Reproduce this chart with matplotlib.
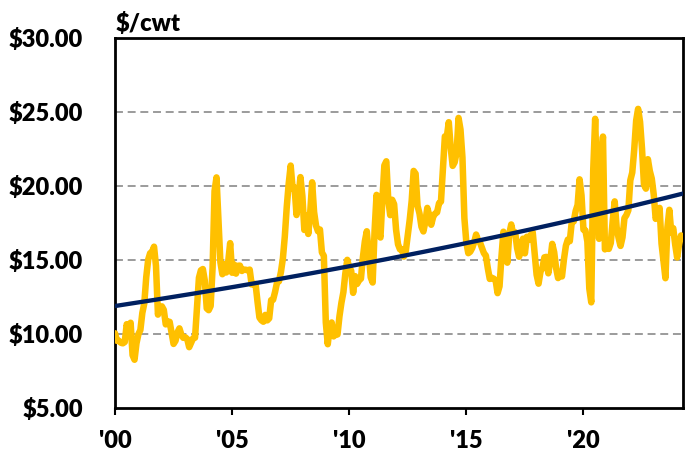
import numpy as np
import matplotlib
matplotlib.use("Agg")
import matplotlib.pyplot as plt
from matplotlib.ticker import FuncFormatter

# Monthly price, $/cwt, Jan 2000 .. Mar 2024
p2000 = [10.05, 9.54, 9.54, 9.41, 9.37, 9.46, 10.66, 10.13, 10.76, 8.57, 8.26, 9.37]
p2001 = [9.99, 10.27, 11.42, 12.06, 13.83, 15.02, 15.46, 15.55, 15.90, 14.60, 11.31, 11.80]
p2002 = [11.87, 11.63, 10.65, 10.85, 10.82, 10.09, 9.33, 9.54, 10.11, 10.38, 9.95, 9.74]
p2003 = [9.78, 9.66, 9.11, 9.41, 9.71, 9.75, 11.78, 13.80, 14.30, 14.39, 13.61, 11.73]
p2004 = [11.61, 11.89, 14.49, 19.66, 20.58, 17.68, 14.85, 14.04, 14.72, 14.16, 14.89, 16.14]
p2005 = [14.14, 14.70, 14.08, 14.61, 14.62, 14.26, 14.35, 14.34, 14.30, 14.35, 13.35, 13.37]
p2006 = [13.39, 12.20, 11.11, 10.93, 10.83, 11.29, 10.92, 11.06, 12.29, 12.32, 12.84, 13.47]
p2007 = [13.56, 14.18, 15.09, 16.60, 18.60, 20.17, 21.38, 19.83, 19.90, 18.04, 19.21, 20.60]
p2008 = [19.32, 17.03, 18.00, 16.76, 18.18, 20.25, 18.24, 17.32, 16.94, 17.06, 15.51, 15.28]
p2009 = [10.78, 9.31, 10.44, 10.78, 9.84, 9.97, 9.97, 11.20, 12.11, 12.82, 14.08, 15.01]
p2010 = [14.50, 14.28, 12.78, 13.91, 13.38, 13.62, 13.74, 15.18, 16.26, 16.94, 15.44, 13.83]
p2011 = [13.48, 17.00, 19.40, 16.87, 16.52, 19.11, 21.39, 21.67, 19.07, 18.03, 19.07, 18.77]
p2012 = [17.05, 16.06, 15.72, 15.72, 15.23, 15.63, 16.68, 17.73, 19.00, 21.02, 20.83, 18.66]
p2013 = [18.14, 17.25, 16.93, 17.59, 18.52, 18.02, 17.38, 17.91, 18.14, 18.22, 18.83, 18.95]
p2014 = [21.15, 23.35, 23.33, 24.31, 22.57, 21.36, 21.60, 22.25, 24.60, 23.82, 21.94, 17.82]
p2015 = [16.18, 15.46, 15.56, 15.81, 16.19, 16.72, 16.33, 16.18, 15.82, 15.46, 15.30, 14.44]
p2016 = [13.72, 13.80, 13.74, 13.63, 12.76, 13.22, 15.24, 16.91, 16.39, 14.82, 16.76, 17.40]
p2017 = [16.77, 16.88, 15.81, 15.22, 15.57, 16.44, 15.45, 16.57, 16.36, 16.69, 16.88, 15.44]
p2018 = [14.00, 13.40, 14.22, 14.47, 15.18, 15.21, 14.10, 14.95, 16.09, 15.53, 14.44, 13.78]
p2019 = [13.96, 13.89, 15.04, 15.96, 16.38, 16.27, 17.55, 17.60, 18.31, 18.72, 20.45, 19.37]
p2020 = [17.05, 17.00, 16.25, 13.07, 12.14, 21.04, 24.54, 19.77, 16.43, 21.61, 23.34, 15.72]
p2021 = [16.04, 15.75, 16.15, 17.67, 18.96, 17.21, 16.49, 15.95, 16.53, 17.83, 18.03, 18.36]
p2022 = [20.38, 20.91, 22.45, 24.42, 25.21, 24.33, 22.52, 20.10, 19.82, 21.81, 21.01, 20.50]
p2023 = [19.43, 17.78, 18.10, 18.52, 16.11, 14.91, 13.77, 17.19, 18.39, 16.84, 17.15, 16.04]
p2024 = [15.17, 16.08, 16.66]

yearly = [p2000, p2001, p2002, p2003, p2004, p2005, p2006, p2007, p2008, p2009,
          p2010, p2011, p2012, p2013, p2014, p2015, p2016, p2017, p2018, p2019,
          p2020, p2021, p2022, p2023, p2024]
price = np.concatenate([np.array(v, dtype=float) for v in yearly])
start_year = 2000
t = start_year + np.arange(len(price)) / 12.0

trend_years = [2000.0, 2024.25]
trend_values = [11.89, 19.49]

x_ticks = [2000, 2005, 2010, 2015, 2020]
x_labels = ["'00", "'05", "'10", "'15", "'20"]
y_ticks = [5, 10, 15, 20, 25, 30]
grid_levels = [10, 15, 20, 25]
unit_label = "$/cwt"

plt.rcParams['font.family'] = ['Lato', 'DejaVu Sans']

W, H = 685, 459
fig = plt.figure(figsize=(W / 100, H / 100), dpi=100)
ax = fig.add_axes([115 / W, (H - 408) / H, (683 - 115) / W, (408 - 38) / H])

for g in grid_levels:
    ax.axhline(g, color='#808080', lw=1.1, linestyle=(0, (5.2, 3.1)), zorder=1)

ax.plot(t, price, color='#FFC000', lw=4.7, solid_joinstyle='round',
        solid_capstyle='round', zorder=3)

tt = np.linspace(trend_years[0], trend_years[1], 200)
rate = np.log(trend_values[1] / trend_values[0]) / (trend_years[1] - trend_years[0])
ax.plot(tt, trend_values[0] * np.exp(rate * (tt - trend_years[0])),
        color='#002060', lw=3.1, zorder=4)

ax.set_xlim(2000, 2024.25)
ax.set_ylim(5, 30)
ax.set_yticks(y_ticks)
ax.yaxis.set_major_formatter(FuncFormatter(lambda v, p: f"${v:.2f}"))
ax.set_xticks(x_ticks)
ax.set_xticklabels(x_labels)

for s in ax.spines.values():
    s.set_linewidth(2.0)
    s.set_color('black')

ax.tick_params(axis='y', length=0, pad=23, labelsize=17)
ax.tick_params(axis='x', direction='out', length=5, width=1.5, pad=11, labelsize=17)
for lab in ax.get_xticklabels() + ax.get_yticklabels():
    lab.set_fontweight('heavy')

fig.text(116 / W, 1 - 31 / H, unit_label, fontsize=17, fontweight='heavy',
         ha='left', va='baseline')

fig.savefig("out.png", dpi=100)
